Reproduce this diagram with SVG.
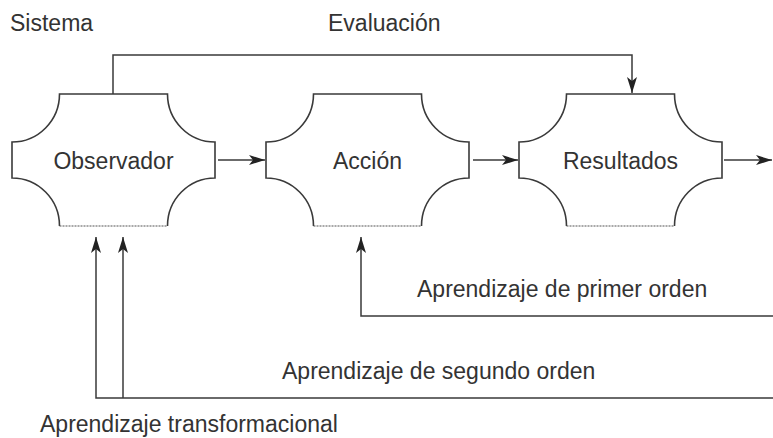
<svg xmlns="http://www.w3.org/2000/svg" width="773" height="438" viewBox="0 0 773 438">
  <style>
    .lbl { font-family: "Liberation Sans", Arial, sans-serif; font-size: 23px; fill: #333; }
    .shape { fill: #fff; stroke: #3a3a3a; stroke-width: 1.6; }
    .bottom { stroke: #555; stroke-width: 1.2; stroke-dasharray: 2 1; fill: none; }
    .conn { fill: none; stroke: #3a3a3a; stroke-width: 1.5; }
  </style>
  <defs>
    <marker id="ah" markerUnits="userSpaceOnUse" markerWidth="17" markerHeight="11" refX="16" refY="5.5" orient="auto">
      <path d="M0,0.5 L16,5.5 L0,10.5 L4,5.5 Z" fill="#222"/>
    </marker>
  </defs>
  <rect width="773" height="438" fill="#fff"/>

  <text class="lbl" x="10" y="31">Sistema</text>
  <text class="lbl" x="328" y="31">Evaluación</text>

  <g id="observador">
    <path class="shape" d="M59.5,226 A47.5,48 0 0 0 12,178 V142 A47.5,48 0 0 0 59.5,94 H167.5 A47.5,48 0 0 0 215,142 V178 A47.5,48 0 0 0 167.5,226"/>
    <line class="bottom" x1="59.5" y1="226" x2="167.5" y2="226"/>
    <text class="lbl" x="113.5" y="169" text-anchor="middle">Observador</text>
  </g>
  <g id="accion">
    <path class="shape" d="M313.5,226 A47.5,48 0 0 0 266,178 V142 A47.5,48 0 0 0 313.5,94 H421.5 A47.5,48 0 0 0 469,142 V178 A47.5,48 0 0 0 421.5,226"/>
    <line class="bottom" x1="313.5" y1="226" x2="421.5" y2="226"/>
    <text class="lbl" x="367.5" y="169" text-anchor="middle">Acción</text>
  </g>
  <g id="resultados">
    <path class="shape" d="M566.5,226 A47.5,48 0 0 0 519,178 V142 A47.5,48 0 0 0 566.5,94 H674.5 A47.5,48 0 0 0 722,142 V178 A47.5,48 0 0 0 674.5,226"/>
    <line class="bottom" x1="566.5" y1="226" x2="674.5" y2="226"/>
    <text class="lbl" x="620.5" y="169" text-anchor="middle">Resultados</text>
  </g>

  <g id="connectors">
    <line class="conn" x1="218" y1="160" x2="265" y2="160" marker-end="url(#ah)"/>
    <line class="conn" x1="473" y1="160" x2="518" y2="160" marker-end="url(#ah)"/>
    <line class="conn" x1="724" y1="160" x2="772" y2="160" marker-end="url(#ah)"/>
    <path class="conn" d="M113,94 V55 H632 V93" marker-end="url(#ah)"/>
    <path class="conn" d="M773,316 H361 V237" marker-end="url(#ah)"/>
    <path class="conn" d="M773,398 H96 V237" marker-end="url(#ah)"/>
    <path class="conn" d="M123,398 V237" marker-end="url(#ah)"/>
  </g>

  <text class="lbl" x="417" y="297">Aprendizaje de primer orden</text>
  <text class="lbl" x="282" y="379">Aprendizaje de segundo orden</text>
  <text class="lbl" x="40" y="432">Aprendizaje transformacional</text>
</svg>
